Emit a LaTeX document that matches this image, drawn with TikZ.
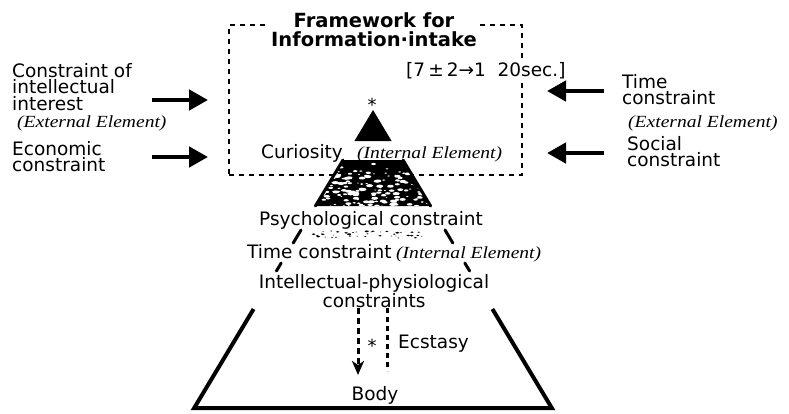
\documentclass[tikz,border=0pt]{standalone}
\usepackage{fontspec}
\setmainfont{DejaVu Sans}
\newfontfamily\elemfont{Liberation Serif}[FakeStretch=1.15]
\usetikzlibrary{arrows.meta}
\begin{document}
\begin{tikzpicture}[x=1pt,y=-1pt,
  lbl/.style={inner sep=0pt, font=\fontsize{18.5}{16.5}\selectfont, align=left},
  clbl/.style={inner sep=0pt, font=\fontsize{18.5}{16}\selectfont, align=center},
  elem/.style={inner sep=0pt, font=\elemfont\itshape\fontsize{17}{17}\selectfont},
  star/.style={inner sep=0pt, font=\fontsize{18}{18}\selectfont},
  frameline/.style={draw, line width=1.8pt, dash pattern=on 5pt off 5pt},
  bigarrow/.style={line width=4.5pt, -{Triangle[length=19pt,width=20pt]}},
  side/.style={line width=3pt, line cap=round},
  basepart/.style={line width=4pt, line join=miter},
  dasharrow/.style={line width=3pt, dash pattern=on 6pt off 4pt, -{Stealth[length=14pt,width=12pt,inset=4pt]}},
  dotline/.style={line width=3pt, dash pattern=on 5pt off 4pt}]
\useasboundingbox (0,0) rectangle (789,413);

% framework for information intake
\node[frameline, minimum width=293pt, minimum height=150pt, inner sep=0pt] (frame) at (375.5,100) {};
\node[fill=white, inner sep=2pt, align=center,
      font=\bfseries\fontsize{19.5}{19.5}\selectfont, anchor=north] (title) at (374,10)
      {Framework for\\Information·intake};
\node[fill=white, inner sep=1pt, font=\fontsize{18.5}{15}\selectfont, anchor=base west] (span) at (405,76)
      {[7\,±\,2→1~~20sec.]};

% external constraints, left
\node[lbl, anchor=north west] (intel) at (12,63) {Constraint of\\intellectual\\interest};
\node[elem, anchor=west] (extl) at (17,123) {(External Element)};
\node[lbl, anchor=north west] (econ) at (12,141) {Economic\\constraint};
\coordinate (a1s) at (152,100); \coordinate (a1e) at (208,100);
\coordinate (a2s) at (152,157); \coordinate (a2e) at (208,157);
\draw[bigarrow] (a1s) -- (a1e);
\draw[bigarrow] (a2s) -- (a2e);

% external constraints, right
\node[lbl, anchor=north west] (timec) at (622,74) {Time\\constraint};
\node[elem, anchor=west] (extr) at (628,123) {(External Element)};
\node[lbl, anchor=north west] (soc) at (627,136) {Social\\constraint};
\coordinate (a3s) at (604,91); \coordinate (a3e) at (547,91);
\coordinate (a4s) at (604,153); \coordinate (a4e) at (547,153);
\draw[bigarrow] (a3s) -- (a3e);
\draw[bigarrow] (a4s) -- (a4e);

% pyramid: apex triangle
\coordinate (apex) at (373,110);
\fill (apex) -- (354.4,141) -- (391.6,141) -- cycle;
\node[star, anchor=base] (top) at (372,111) {*};

% mottled layer
\begin{scope}
  \clip (343,160) -- (403,160) -- (430.6,206) -- (315.4,206) -- cycle;
  \fill (300,150) rectangle (450,212);
  \pgfmathsetseed{42}
  \foreach \k in {1,...,150}{
    \pgfmathsetmacro{\yy}{160+47*sqrt(rnd)}
    \pgfmathsetmacro{\xx}{373+(2*rnd-1)*0.6*(\yy-110)}
    \pgfmathsetmacro{\rr}{0.5+1.5*rnd}
    \fill[white] (\xx,\yy) ellipse[x radius=1.8*\rr, y radius=0.8*\rr];
  }
\end{scope}
\draw[side] (343,160) -- (315.4,206);
\draw[side] (403,160) -- (430.6,206);

% pyramid sides between the rows
\draw[side] (301,230) -- (293.2,243);
\draw[side] (445,230) -- (452.8,243);
\draw[side] (281.2,263) -- (276.4,271);
\draw[side] (464.8,263) -- (469.6,271);

% faint speckles under the mottled layer
\begin{scope}
  \pgfmathsetseed{7}
  \foreach \k in {1,...,40}{
    \pgfmathsetmacro{\yy}{231+7*rnd}
    \pgfmathsetmacro{\xx}{310+112*rnd}
    \pgfmathsetmacro{\rr}{0.4+0.9*rnd}
    \fill (\xx,\yy) ellipse[x radius=1.6*\rr, y radius=0.7*\rr];
  }
\end{scope}

% pyramid base
\coordinate (tl) at (253.6,309); \coordinate (bl) at (194.2,408);
\coordinate (br) at (551.8,408); \coordinate (tr) at (492.4,309);
\draw[basepart] (tl) -- (bl) -- (br) -- (tr);

% internal elements
\node[lbl, anchor=base west] (cur) at (261,158) {Curiosity};
\node[elem, anchor=base west] (inl1) at (357,158) {(Internal Element)};
\node[lbl, anchor=base] (psy) at (371,225) {Psychological constraint};
\node[lbl, anchor=base west] (tint) at (247,258) {Time constraint};
\node[elem, anchor=base west] (inl2) at (396,258) {(Internal Element)};
\node[clbl, anchor=north] (ipc) at (374,274) {Intellectual-physiological\\constraints};

% body
\coordinate (d1s) at (358,308); \coordinate (d1e) at (358,375);
\coordinate (d2s) at (387,308); \coordinate (d2e) at (387,371);
\draw[dasharrow] (d1s) -- (d1e);
\draw[dotline] (d2s) -- (d2e);
\node[star, anchor=base] (mid) at (372,352) {*};
\node[lbl, anchor=base west] (ecs) at (398,348) {Ecstasy};
\node[lbl, anchor=base] (body) at (375,400) {Body};
\end{tikzpicture}
\end{document}
